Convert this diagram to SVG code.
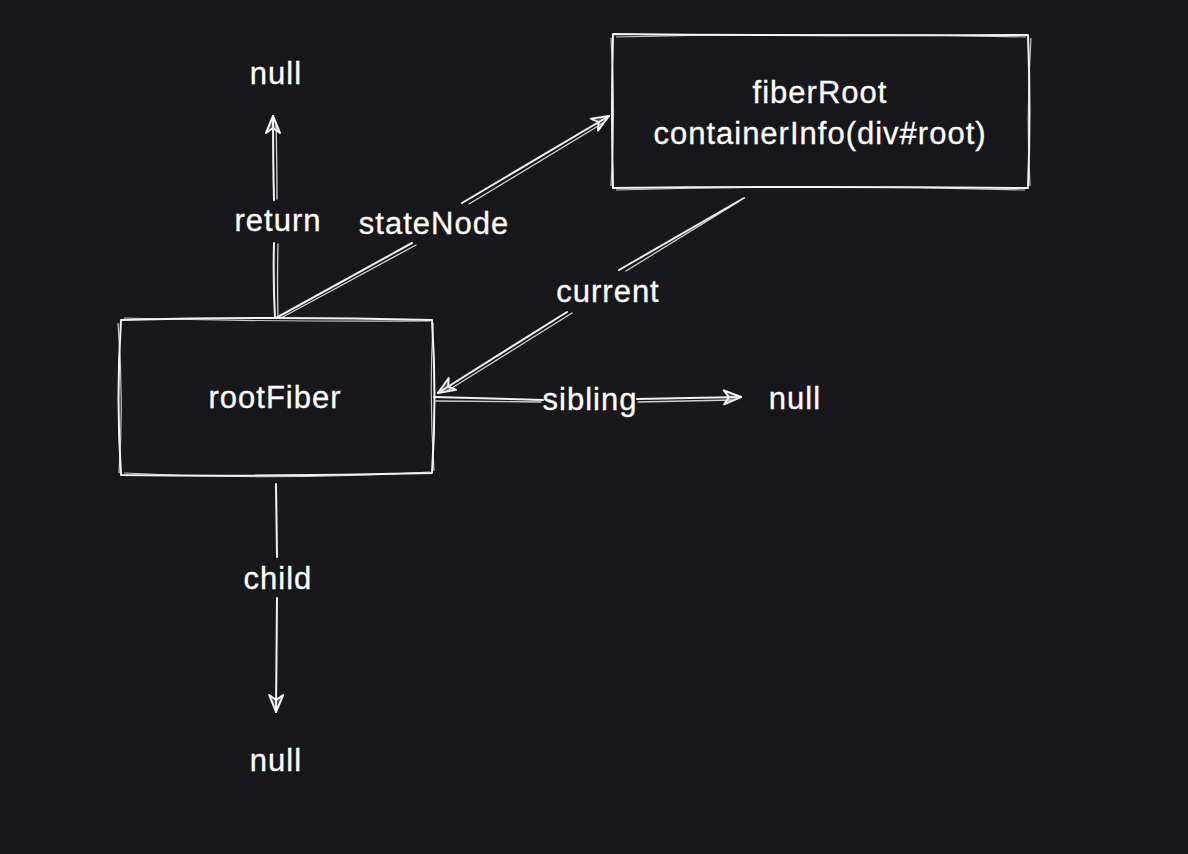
<svg xmlns="http://www.w3.org/2000/svg" width="1188" height="854" viewBox="0 0 1188 854">
  <defs>
    <style>
      .t { font-family: "Liberation Sans", Arial, Helvetica, sans-serif; font-size: 31px; fill: #ffffff; text-anchor: middle; letter-spacing: 1px; stroke: #ffffff; stroke-width: 0.3px; }
      .edge { fill: none; stroke: #f2f2f2; stroke-width: 2; stroke-linecap: round; stroke-linejoin: round; }
      .edge2 { fill: none; stroke: #f2f2f2; stroke-width: 1.3; stroke-linecap: round; opacity: 0.85; }
      .box { fill: none; stroke: #f2f2f2; stroke-width: 2; stroke-linejoin: round; }
      .box2 { fill: none; stroke: #f2f2f2; stroke-width: 1.2; opacity: 0.8; }
    </style>
    <marker id="ah" viewBox="-20 -10 24 20" refX="0" refY="0" markerWidth="24" markerHeight="20" markerUnits="userSpaceOnUse" orient="auto">
      <path d="M -17 -7 L 0 0 L -17 7 L -12 0 Z" fill="#f2f2f2" fill-opacity="0.25" stroke="#f2f2f2" stroke-width="2" stroke-linejoin="round"/>
    </marker>
  </defs>
  <rect x="0" y="0" width="1188" height="854" fill="#18171c"/>

  <g id="connectors">
    <g id="edge-return">
      <path class="edge" d="M 275 318 Q 273 280 274 243"/>
      <path class="edge2" d="M 278 317 Q 277 280 278 244"/>
      <path class="edge" d="M 274 200 Q 273 160 273 116" marker-end="url(#ah)"/>
      <path class="edge2" d="M 277 199 Q 277 160 276 125"/>
      <text class="t" x="278" y="231">return</text>
    </g>
    <g id="edge-stateNode">
      <path class="edge" d="M 276 318 L 412 243"/>
      <path class="edge2" d="M 281 318 L 416 245"/>
      <path class="edge" d="M 462 203 L 609 116" marker-end="url(#ah)"/>
      <path class="edge2" d="M 469 204 L 603 123"/>
      <text class="t" x="434" y="234">stateNode</text>
    </g>
    <g id="edge-current">
      <path class="edge" d="M 744 198 L 619 270"/>
      <path class="edge2" d="M 738 202 L 626 271"/>
      <path class="edge" d="M 567 312 L 438 393" marker-end="url(#ah)"/>
      <path class="edge2" d="M 572 313 L 447 391"/>
      <text class="t" x="608" y="302">current</text>
    </g>
    <g id="edge-sibling">
      <path class="edge" d="M 434 397 L 543 400"/>
      <path class="edge2" d="M 436 401 L 541 402"/>
      <path class="edge" d="M 637 399 L 741 397" marker-end="url(#ah)"/>
      <path class="edge2" d="M 638 402 L 732 400"/>
      <text class="t" x="590" y="410">sibling</text>
    </g>
    <g id="edge-child">
      <path class="edge" d="M 276 484 L 277 557"/>
      <path class="edge" d="M 277 598 L 276 712" marker-end="url(#ah)"/>
      <text class="t" x="278" y="589">child</text>
    </g>
  </g>

  <g id="node-rootFiber">
    <path class="box" d="M 121 320 Q 276 316 432 320 Q 437 398 432 473 Q 276 477 121 475 Q 116 398 121 320 Z"/>
    <path class="box2" d="M 124 318 Q 276 322 430 321 M 433 323 Q 429 398 434 471 M 430 472 Q 276 481 124 473 M 119 473 Q 124 398 118 323"/>
    <text class="t" x="275" y="408">rootFiber</text>
  </g>

  <g id="node-fiberRoot">
    <path class="box" d="M 613 34 Q 820 36 1028 35 Q 1031 112 1028 188 Q 820 186 613 188 Q 611 112 613 34 Z"/>
    <path class="box2" d="M 616 37 Q 820 32 1026 37 M 1031 38 Q 1026 112 1030 186 M 1025 190 Q 820 184 616 190 M 611 186 Q 616 112 611 38"/>
    <text class="t" x="820" y="103">fiberRoot</text>
    <text class="t" x="820" y="144">containerInfo(div#root)</text>
  </g>

  <g id="node-null-top">
    <text class="t" x="276" y="84">null</text>
  </g>
  <g id="node-null-right">
    <text class="t" x="795" y="409">null</text>
  </g>
  <g id="node-null-bottom">
    <text class="t" x="276" y="771">null</text>
  </g>
</svg>
